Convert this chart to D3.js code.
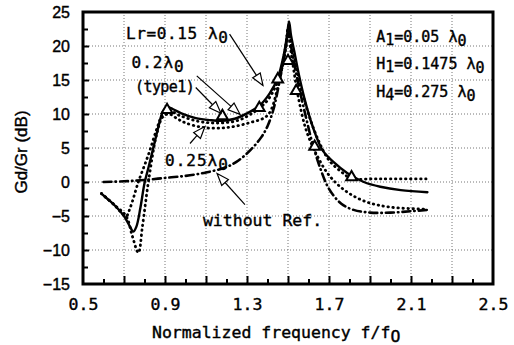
<!DOCTYPE html>
<html>
<head>
<meta charset="utf-8">
<script src="https://cdn.jsdelivr.net/npm/d3@7"></script>
<style>
body { margin: 0; background: #fff; }
</style>
</head>
<body>
<div id="chart"></div>
<script>
// ------------------------- DATA -------------------------
// Lr = 0.15 lambda0 (solid)
const freq015 = [0.59, 0.62, 0.66, 0.70, 0.73, 0.745, 0.76, 0.78, 0.80, 0.82, 0.85, 0.875, 0.89, 0.91, 0.94, 0.98, 1.05, 1.12, 1.18, 1.24, 1.30, 1.36, 1.41, 1.45, 1.48, 1.495, 1.505, 1.515, 1.53, 1.555, 1.58, 1.62, 1.67, 1.72, 1.79, 1.87, 1.95, 2.05, 2.18];
const gain015 = [-1.7, -2.5, -3.6, -5.0, -6.6, -7.3, -6.6, -3.8, -0.2, 2.2, 5.9, 9.0, 10.4, 11.0, 10.7, 10.1, 9.4, 9.1, 9.0, 9.3, 10.1, 11.2, 13.0, 15.3, 18.8, 21.5, 23.6, 21.5, 19.3, 15.5, 12.3, 8.2, 4.6, 3.0, 1.3, 0.0, -0.7, -1.2, -1.5];

// Lr = 0.2 lambda0 (dotted, upper)
const freq02 = [0.59, 0.65, 0.71, 0.73, 0.77, 0.82, 0.86, 0.89, 0.92, 0.97, 1.05, 1.12, 1.18, 1.25, 1.32, 1.40, 1.46, 1.49, 1.50, 1.51, 1.53, 1.56, 1.60, 1.65, 1.70, 1.76, 1.81, 1.90, 2.00, 2.18];
const gain02 = [-1.7, -3.3, -5.0, -3.8, 0.0, 4.1, 7.8, 10.0, 10.5, 9.8, 9.0, 8.7, 8.7, 9.0, 10.0, 12.0, 15.6, 19.8, 22.6, 21.5, 18.5, 14.3, 10.0, 6.0, 3.2, 1.5, 0.5, 0.45, 0.45, 0.45];

// Lr = 0.25 lambda0 (dotted, lower)
const freq025 = [0.59, 0.65, 0.71, 0.74, 0.77, 0.79, 0.82, 0.86, 0.89, 0.92, 0.96, 1.00, 1.09, 1.20, 1.31, 1.40, 1.45, 1.485, 1.50, 1.52, 1.55, 1.59, 1.64, 1.70, 1.78, 1.88, 2.00, 2.18];
const gain025 = [-1.7, -3.3, -5.0, -7.9, -10.4, -6.5, 0.2, 7.1, 9.6, 10.0, 9.3, 8.7, 8.0, 8.0, 8.7, 9.8, 13.9, 19.3, 21.5, 18.0, 12.5, 7.5, 4.0, 1.0, -1.3, -2.9, -3.7, -4.0];

// without reflector (dash-dot)
const freqNoRef = [0.60, 0.70, 0.80, 0.90, 1.00, 1.10, 1.20, 1.26, 1.32, 1.37, 1.40, 1.43, 1.46, 1.49, 1.50, 1.51, 1.52, 1.55, 1.58, 1.62, 1.66, 1.70, 1.76, 1.82, 1.90, 2.00, 2.10, 2.18];
const gainNoRef = [0.0, 0.1, 0.3, 0.6, 0.9, 1.4, 2.2, 3.2, 4.8, 6.6, 8.2, 10.8, 15.0, 20.0, 22.3, 21.0, 19.0, 14.5, 10.5, 5.6, 1.8, -1.0, -3.2, -4.1, -4.5, -4.5, -4.3, -4.1];

// type1 (triangles)
const freqType1 = [0.91, 1.18, 1.36, 1.45, 1.50, 1.54, 1.63, 1.81];
const gainType1 = [10.6, 9.7, 10.9, 15.1, 17.8, 13.4, 5.2, 0.7];

// axes
const xLabels = [0.5, 0.9, 1.3, 1.7, 2.1, 2.5];
const xMajor = [0.7, 0.9, 1.1, 1.3, 1.5, 1.7, 1.9, 2.1, 2.3];
const xMinor = [0.6, 0.8, 1.0, 1.2, 1.4, 1.6, 1.8, 2.0, 2.2, 2.4];
const yLabels = [-15, -10, -5, 0, 5, 10, 15, 20, 25];
const yMajor = [-10, -5, 0, 5, 10, 15, 20];
const yMinor = [-12.5, -7.5, -2.5, 2.5, 7.5, 12.5, 17.5, 22.5];

// ------------------------- SETUP -------------------------
const mono = "'DejaVu Sans Mono', monospace";
const sans = "'Liberation Sans', Arial, sans-serif";

let x = d3.scaleLinear().domain([0.5, 2.5]).range([83, 493]);
let y = d3.scaleLinear().domain([-15, 25]).range([284, 12]);

let svg = d3.select("#chart")
            .append("svg")
            .attr("width", 514)
            .attr("height", 345);

// grid lines
svg.append("g").selectAll("line")
   .data(xMajor)
   .enter()
   .append("line")
   .attr("x1", d => x(d)).attr("x2", d => x(d))
   .attr("y1", y(25)).attr("y2", y(-15))
   .style("stroke", "#777").style("stroke-width", 1).style("stroke-dasharray", "1,2");

svg.append("g").selectAll("line")
   .data(yMajor)
   .enter()
   .append("line")
   .attr("x1", x(0.5)).attr("x2", x(2.5))
   .attr("y1", d => y(d)).attr("y2", d => y(d))
   .style("stroke", "#777").style("stroke-width", 1).style("stroke-dasharray", "1,2");

// inward ticks
function ticks(axis, values, size) {
    return axis.tickValues(values).tickSizeInner(-size).tickSizeOuter(0).tickFormat("");
}
svg.append("g").attr("transform", "translate(0," + y(-15) + ")").call(ticks(d3.axisBottom(x), xMajor, 8));
svg.append("g").attr("transform", "translate(0," + y(-15) + ")").call(ticks(d3.axisBottom(x), xMinor, 5));
svg.append("g").attr("transform", "translate(" + x(0.5) + ",0)").call(ticks(d3.axisLeft(y), yMajor, 6));
svg.append("g").attr("transform", "translate(" + x(0.5) + ",0)").call(ticks(d3.axisLeft(y), yMinor, 5));
svg.selectAll(".domain").remove();
svg.selectAll(".tick line").style("stroke", "#000").style("stroke-width", 2);

// tick labels
let xAxis = svg.append("g")
               .attr("transform", "translate(0," + y(-15) + ")")
               .call(d3.axisBottom(x).tickValues(xLabels).tickSize(0).tickPadding(14).tickFormat(d3.format(".1f")));
xAxis.select(".domain").remove();
xAxis.selectAll("text").style("font-family", mono).style("font-size", "16.5px")
     .style("fill", "#000").style("stroke", "#000").style("stroke-width", 0.4);

let yAxis = svg.append("g")
               .attr("transform", "translate(" + x(0.5) + ",0)")
               .call(d3.axisLeft(y).tickValues(yLabels).tickSize(0).tickPadding(13));
yAxis.select(".domain").remove();
yAxis.selectAll("text").style("font-family", sans).style("font-size", "16px")
     .style("fill", "#000").style("stroke", "#000").style("stroke-width", 0.4);

// frame
svg.append("rect")
   .attr("x", x(0.5)).attr("y", y(25))
   .attr("width", x(2.5) - x(0.5)).attr("height", y(-15) - y(25))
   .style("fill", "none").style("stroke", "#000").style("stroke-width", 3);

// ------------------------- CURVES -------------------------
let line = d3.line()
             .x(d => x(d[0]))
             .y(d => y(d[1]))
             .curve(d3.curveCatmullRom.alpha(0.5));

function curve(fs, gs, dash, width) {
    svg.append("path")
       .datum(d3.zip(fs, gs))
       .attr("d", line)
       .style("fill", "none")
       .style("stroke", "#000")
       .style("stroke-width", width)
       .style("stroke-linecap", "round")
       .style("stroke-dasharray", dash);
}

curve(freqNoRef, gainNoRef, "8,4,0.5,4", 2.6);
curve(freq025, gain025, "0.5,4.5", 2.8);
curve(freq02, gain02, "0.5,4.5", 2.8);
curve(freq015, gain015, null, 2.4);

svg.append("g").selectAll("path")
   .data(d3.zip(freqType1, gainType1))
   .enter()
   .append("path")
   .attr("d", d3.symbol(d3.symbolTriangle, 50))
   .attr("transform", d => "translate(" + x(d[0]) + "," + y(d[1]) + ")")
   .style("fill", "#fff")
   .style("stroke", "#000")
   .style("stroke-width", 2);

// ------------------------- ANNOTATIONS -------------------------
function label(f, v, parts, size, spacing) {
    let t = svg.append("text")
               .attr("x", x(f)).attr("y", y(v))
               .style("font-family", mono)
               .style("font-size", size + "px")
               .style("letter-spacing", (spacing || 0) + "px")
               .style("fill", "#000")
               .style("stroke", "#000")
               .style("stroke-width", 0.4);
    parts.forEach(p => {
        t.append("tspan").attr("dy", p[1]).text(p[0]);
    });
}

label(0.71, 21.0, [["Lr=0.15 λ", 0], ["0", 4]], 16, 0.6);
label(0.737, 16.7, [["0.2λ", 0], ["0", 4]], 16, 1);
label(0.754, 13.2, [["(type1)", 0]], 15, -0.6);
label(0.90, 2.3, [["0.25λ", 0], ["0", 4]], 16, 1);
label(1.085, -6.4, [["without Ref.", 0]], 16.5);
label(1.93, 20.6, [["A", 0], ["1", 3], ["=0.05 λ", -3], ["0", 4]], 15);
label(1.93, 16.6, [["H", 0], ["1", 3], ["=0.1475 λ", -3], ["0", 4]], 15);
label(1.93, 12.5, [["H", 0], ["4", 3], ["=0.275 λ", -3], ["0", 4]], 15);

// axis titles
svg.append("text")
   .attr("x", 152).attr("y", 338)
   .style("font-family", mono).style("font-size", "16.5px")
   .style("stroke", "#000").style("stroke-width", 0.4)
   .text("Normalized frequency f/f")
   .append("tspan").attr("dy", 4).text("O");

svg.append("text")
   .attr("transform", "translate(27,152) rotate(-90)")
   .attr("text-anchor", "middle")
   .style("font-family", sans).style("font-size", "17px")
   .style("stroke", "#000").style("stroke-width", 0.4)
   .text("Gd/Gr (dB)");

// arrows with hollow heads
const arrowFrom = [[1.215, 21.75], [1.05, 13.9], [1.055, 15.6], [1.022, 5.66], [1.29, -3.34]];
const arrowTo = [[1.378, 14.2], [1.173, 10.1], [1.266, 9.95], [1.095, 8.17], [1.154, 1.24]];

arrowFrom.forEach((a, i) => {
    let x0 = x(a[0]), y0 = y(a[1]);
    let x1 = x(arrowTo[i][0]), y1 = y(arrowTo[i][1]);
    let ang = Math.atan2(y1 - y0, x1 - x0);
    let L = 12, w = 4.5;
    let bx = x1 - L * Math.cos(ang), by = y1 - L * Math.sin(ang);
    svg.append("line")
       .attr("x1", x0).attr("y1", y0).attr("x2", bx).attr("y2", by)
       .style("stroke", "#000").style("stroke-width", 1.2);
    let px = -Math.sin(ang) * w, py = Math.cos(ang) * w;
    svg.append("path")
       .attr("d", "M" + x1 + "," + y1 + "L" + (bx + px) + "," + (by + py) + "L" + (bx - px) + "," + (by - py) + "Z")
       .style("fill", "#fff").style("stroke", "#000").style("stroke-width", 1.2);
});
</script>
</body>
</html>
